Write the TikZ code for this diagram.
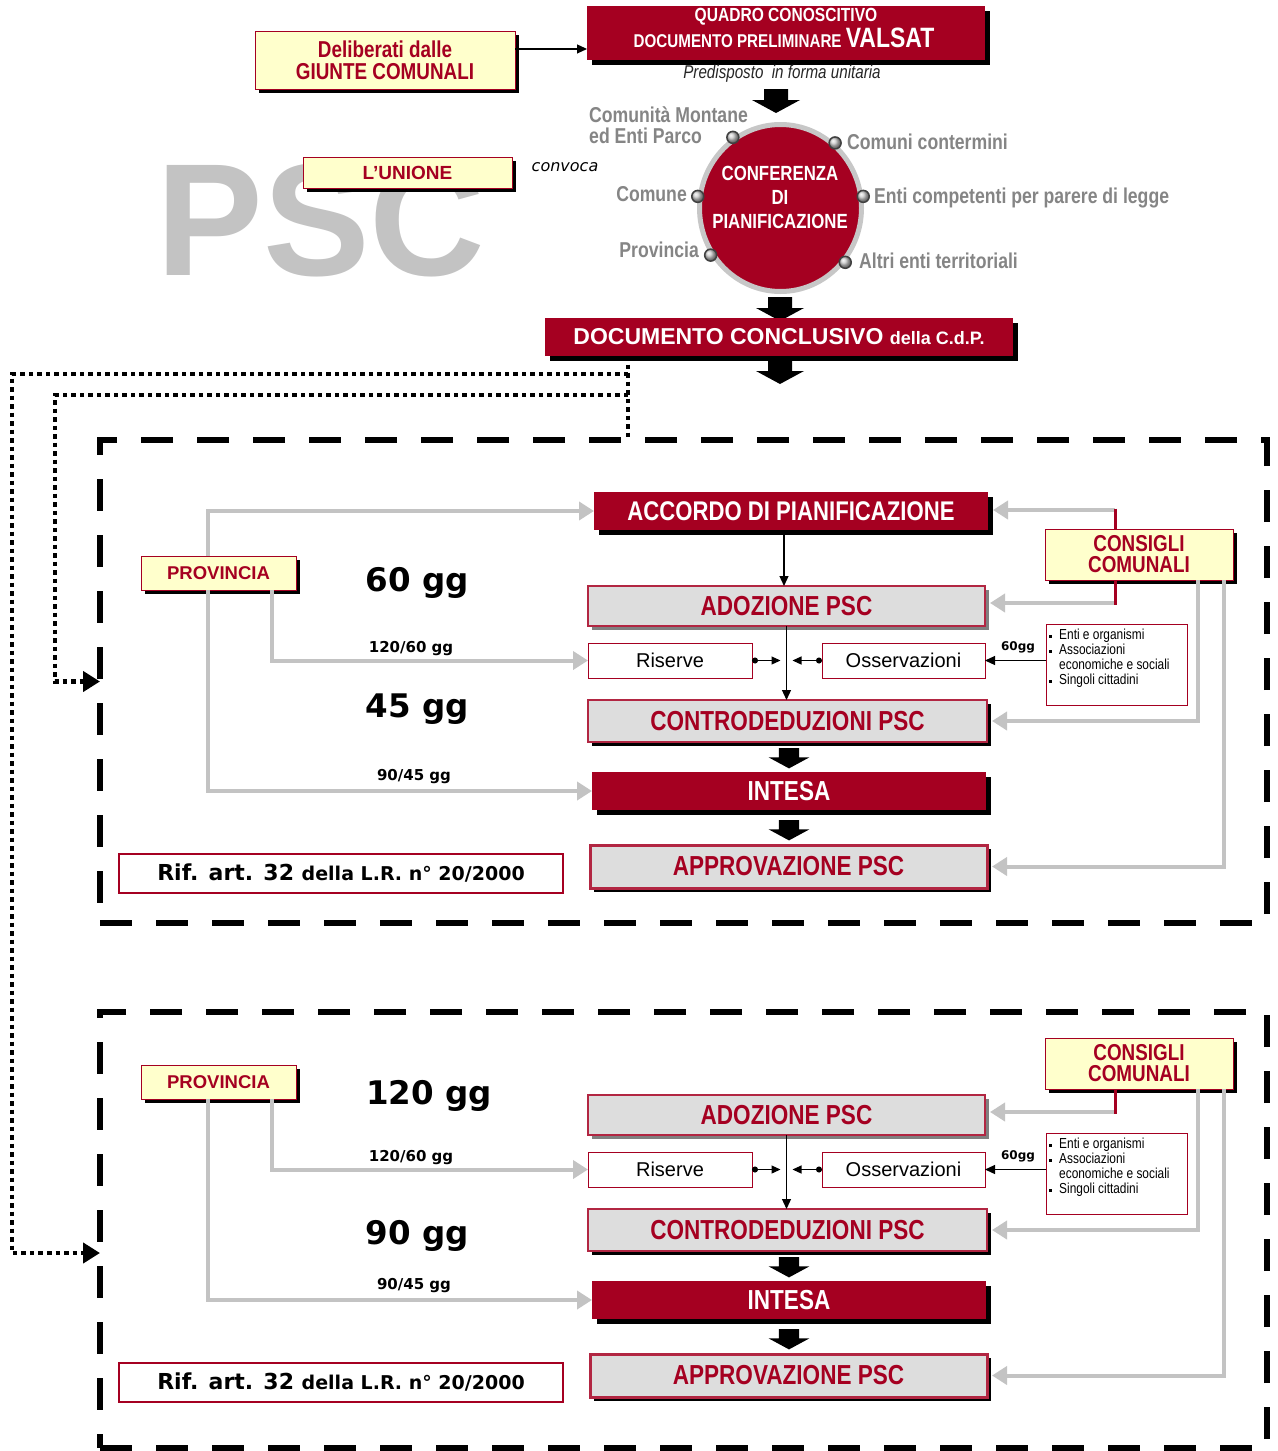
\documentclass[tikz,border=0pt]{standalone}
\usepackage{fontspec}
\setmainfont{Liberation Sans}
\newfontfamily\nar{Liberation Sans}[FakeStretch=0.82]
\newfontfamily\dv{DejaVu Sans}
\usetikzlibrary{arrows.meta,shadows,calc,shapes.geometric}
\definecolor{dred}{HTML}{A50021}
\definecolor{ylw}{HTML}{FFFFCC}
\definecolor{lgray}{HTML}{DDDDDD}
\definecolor{glines}{HTML}{C3C3C3}
\definecolor{txtgray}{HTML}{858585}
\newcommand\NB[2]{\nar\bfseries\fontsize{#1}{#2}\selectfont}
\newcommand\bul{\makebox[10pt][l]{\rule[0.25ex]{0.42ex}{0.42ex}}}
\tikzset{
  box/.style={rectangle, inner sep=0pt, outer sep=0pt, align=center},
  sz/.style 2 args={minimum width=#1pt, minimum height=#2pt},
  shblack/.style={general shadow={fill=black, shadow xshift=4pt, shadow yshift=-4pt}},
  shgray/.style={general shadow={fill=black!50, shadow xshift=4pt, shadow yshift=-4pt}},
  redbox/.style={box, fill=dred, text=white, general shadow={fill=black, shadow xshift=5pt, shadow yshift=-5pt}},
  yelbox/.style={box, fill=ylw, draw=dred, line width=0.9pt, text=dred, shblack},
  greybox/.style={box, fill=lgray, draw=dred!85, line width=1.2pt, text=dred},
  whitebox/.style={box, fill=white, draw=dred, line width=1pt},
  garrow/.style={draw=glines, line width=4pt, -{Triangle[length=15pt,width=18pt]}},
  thinarrow/.style={draw=black, line width=1.2pt, -{Triangle[length=10pt,width=9pt]}},
  dotarrow/.style={draw=black, line width=1.2pt, {Circle[length=6pt]}-{Triangle[length=9pt,width=8pt]}},
  redline/.style={draw=dred, line width=3pt},
  dotline/.style={draw=black, line width=4.5pt, dash pattern=on 4.5pt off 4pt},
  framebox/.style={box, draw=black, line width=6pt, dash pattern=on 32pt off 24pt},
  cdot/.style={circle, minimum size=12pt, inner sep=0pt, ball color=black!20, draw=black!75, line width=1.5pt},
  glabel/.style={text=txtgray, font=\NB{21.5}{21}, inner sep=0pt},
  blockarr/.pic={\fill[black] (-12,0) -- (12,0) -- (12,11) -- (24,11) -- (0,24) -- (-24,11) -- (-12,11) -- cycle;}
}
\newcommand\pscstage[2]{%
  \node[greybox, shgray, sz={397}{40}, font=\NB{27.5}{28}] (adoz#1) at (786.5,{606+#2}) {ADOZIONE PSC};
  \node[whitebox, sz={164}{35}, font=\fontsize{20}{20}\selectfont] (ris#1) at (670,{660.5+#2}) {Riserve};
  \node[whitebox, sz={163}{35}, font=\fontsize{20}{20}\selectfont] (oss#1) at (903.5,{660.5+#2}) {Osservazioni};
  \node[greybox, shblack, sz={399}{42}, font=\NB{27.5}{28}] (contro#1) at (787.5,{721+#2}) {CONTRODEDUZIONI PSC};
  \node[redbox, sz={394}{38}, font=\NB{27.5}{28}] (int#1) at (789,{791+#2}) {INTESA};
  \node[greybox, shblack, line width=3pt, sz={397}{43}, font=\NB{27.5}{28}] (app#1) at (788.5,{866.5+#2}) {APPROVAZIONE PSC};
  \node[whitebox, line width=2.5pt, sz={444}{39}] (rif#1) at (341,{873.5+#2}) {\dv\bfseries\fontsize{22}{22}\selectfont Rif. art. 32 {\fontsize{19}{19}\selectfont della L.R. n° 20/2000}};
  \node[yelbox, sz={155}{34}, font=\bfseries\fontsize{18.5}{18.5}\selectfont] (prov#1) at (218.5,{573+#2}) {PROVINCIA};
  \node[yelbox, sz={188}{51}, font=\NB{23}{21}] (cons#1) at (1139,{554.5+#2}) {CONSIGLI\\COMUNALI};
  \node[whitebox, sz={141}{81}] (enti#1) at (1116.5,{664.5+#2}) {};
  \node[anchor=north west, align=left, inner sep=0pt, font=\nar\fontsize{14.5}{15}\selectfont] (entitxt#1) at (1049,{629+#2}) {\bul Enti e organismi\\\bul Associazioni\\\hspace*{10pt}economiche e sociali\\\bul Singoli cittadini};
  \draw[thinarrow] (adoz#1.south) -- (adoz#1.south |- contro#1.north);
  \draw[dotarrow] (ris#1.east) -- ($(ris#1.east -| adoz#1.south)+(-6,0)$);
  \draw[dotarrow] (oss#1.west) -- ($(oss#1.west -| adoz#1.south)+(6,0)$);
  \draw[thinarrow] (enti#1.west |- oss#1.east) -- (oss#1.east);
  \node[font=\dv\bfseries\fontsize{12}{12}\selectfont] (sixty#1) at (1018,{647+#2}) {60gg};
  \draw[garrow] ($(prov#1.south west)+(131,0)$) |- (ris#1.west);
  \draw[garrow] ($(prov#1.south west)+(67,0)$) |- (int#1.west);
  \node[font=\dv\bfseries\fontsize{15}{15}\selectfont] (la#1) at (411,{649+#2}) {120/60 gg};
  \node[font=\dv\bfseries\fontsize{15}{15}\selectfont] (lb#1) at (414,{777+#2}) {90/45 gg};
  \coordinate (cb#1) at ($(cons#1.south west)+(70,23)$);
  \draw[garrow, shorten >=5pt] (cb#1) -- (cb#1 -| adoz#1.east);
  \draw[redline] (cons#1.south -| cb#1) -- ($(cb#1)+(0,1.5)$);
  \draw[garrow, shorten >=5pt] ($(cons#1.south west)+(153,0)$) |- (contro#1.east);
  \draw[garrow, shorten >=5pt] ($(cons#1.south west)+(179,0)$) |- (app#1.east);
  \pic[scale=0.85] at (789,{748+#2}) {blockarr};
  \pic[scale=0.85] at (789,{820+#2}) {blockarr};
}
\begin{document}
\begin{tikzpicture}[x=1pt,y=-1pt]
\useasboundingbox (0,0) rectangle (1277,1451);
\fill[white] (0,0) rectangle (1277,1451);

% big background PSC
\node[anchor=base, text=glines, inner sep=0pt] (psc) at (321,275) {\bfseries\fontsize{160}{160}\selectfont PSC};

% top part
\node[yelbox, sz={260}{58}, font=\NB{23}{22}] (delib) at (385,60) {Deliberati dalle\\GIUNTE COMUNALI};
\node[redbox, sz={398}{54}] (quadro) at (786,33) {};
\node[text=white, font=\NB{19}{19}, inner sep=0pt] (q1) at (786,17) {QUADRO CONOSCITIVO};
\node[text=white, font=\NB{18.5}{19}, inner sep=0pt] (q2) at (784,38) {DOCUMENTO PRELIMINARE {\fontsize{28}{28}\selectfont VALSAT}};
\coordinate (da) at ($(delib.north east)!0.31!(delib.south east)$);
\draw[thinarrow] (da) -- (da -| quadro.west);
\node[text=black!85, font=\nar\itshape\fontsize{18.5}{18.5}\selectfont, inner sep=0pt] (pred) at (782,74) {Predisposto\ \ in forma unitaria};
\pic at (776,89) {blockarr};

% conference
\node[ellipse, minimum width=162pt, minimum height=167pt, fill=dred, draw=black!22, line width=5pt, inner sep=0pt] (conf) at (780.5,208) {};
\node[text=white, font=\NB{20.5}{24}, align=center, inner sep=0pt] (conftxt) at (780,197) {CONFERENZA\\DI\\PIANIFICAZIONE};
\node[cdot] (d1) at (conf.124) {};
\node[cdot] (d2) at (conf.50) {};
\node[cdot] (d3) at (conf.172) {};
\node[cdot] (d4) at (conf.8) {};
\node[cdot] (d5) at (conf.214) {};
\node[cdot] (d6) at (conf.320) {};
\node[glabel, anchor=west, align=left] (l1) at (589,125) {Comunità Montane\\ed Enti Parco};
\node[glabel, anchor=west] (l2) at (847,142) {Comuni contermini};
\node[glabel, anchor=east] (l3) at (687,194) {Comune};
\node[glabel, anchor=west] (l4) at (874,198) {Enti competenti per parere di legge};
\node[glabel, anchor=east] (l5) at (699,250) {Provincia};
\node[glabel, anchor=west] (l6) at (859,261) {Altri enti territoriali};
\node[font=\dv\itshape\fontsize{16}{16}\selectfont, inner sep=0pt] (conv) at (565,167) {convoca};
\node[yelbox, sz={209}{31}, font=\bfseries\fontsize{19}{19}\selectfont] (unione) at (407.5,172.5) {L’UNIONE};

\pic at (780,297) {blockarr};
\node[redbox, sz={468}{38}, font=\bfseries\fontsize{23}{23}\selectfont] (doc) at (779,337) {DOCUMENTO CONCLUSIVO {\fontsize{18}{18}\selectfont della C.d.P.}};
\pic at (780,360) {blockarr};

% frames
\node[framebox, sz={1167}{483}] (frame1) at (683.5,681.5) {};
\node[framebox, sz={1167}{436}] (frame2) at (683.5,1230) {};

% dotted connectors
\coordinate (dstart) at ($(doc.south west)+(83,0)$);
\draw[dotline] (dstart) -- (dstart |- frame1.north);
\draw[dotline, -{Triangle[length=17pt,width=20pt]}] ($(dstart)+(0,18)$) -| ($(frame2.west)+(-88,23)$) -- ($(frame2.west)+(0,23)$);
\draw[dotline, -{Triangle[length=17pt,width=20pt]}] ($(dstart)+(0,39)$) -| ($(frame1.west)+(-45,0)$) -- (frame1.west);

% stage 1
\pscstage{1}{0}
\node[redbox, sz={394}{38}, font=\NB{27}{28}] (acc1) at (791,511) {ACCORDO DI PIANIFICAZIONE};
\coordinate (accb) at ($(acc1.south)+(-7,0)$);
\draw[thinarrow] (accb) -- (accb |- adoz1.north);
\draw[garrow] ($(prov1.north west)+(67,0)$) |- (acc1.west);
\coordinate (ct1) at ($(cons1.north west)+(70,-19)$);
\draw[garrow, shorten >=5pt] (ct1) -- (ct1 -| acc1.east);
\draw[redline] ($(ct1)+(0,-1.5)$) -- (cons1.north -| ct1);
\node[font=\dv\bfseries\fontsize{32.5}{32.5}\selectfont] (t60) at (417,583) {60 gg};
\node[font=\dv\bfseries\fontsize{32.5}{32.5}\selectfont] (t45) at (417,709) {45 gg};

% stage 2
\pscstage{2}{509}
\node[font=\dv\bfseries\fontsize{32.5}{32.5}\selectfont] (t120) at (429,1096) {120 gg};
\node[font=\dv\bfseries\fontsize{32.5}{32.5}\selectfont] (t90) at (417,1236) {90 gg};
\end{tikzpicture}
\end{document}
